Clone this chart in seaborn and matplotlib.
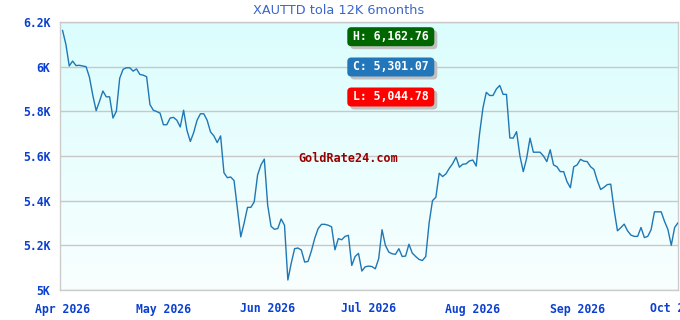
import numpy as np
import pandas as pd
import matplotlib
matplotlib.use("Agg")
import matplotlib.pyplot as plt
from matplotlib.patches import FancyBboxPatch
import seaborn as sns

# ---- data ----
start_date = "2026-04-01"
prices = [
    6162.76, 6100, 6003, 6025, 6005, 6006, 6003, 6000, 5953, 5872,
    5803, 5845, 5891, 5865, 5865, 5770, 5800, 5948, 5988, 5995,
    5995, 5980, 5990, 5965, 5962, 5955, 5830, 5805, 5799, 5792,
    5740, 5740, 5770, 5773, 5760, 5730, 5805, 5715, 5665, 5705,
    5760, 5789, 5789, 5760, 5708, 5690, 5660, 5690, 5525, 5503,
    5506, 5490, 5365, 5238, 5300, 5370, 5370, 5395, 5515, 5560,
    5586, 5380, 5285, 5272, 5275, 5318, 5290, 5044.78, 5120, 5185,
    5188, 5179, 5125, 5128, 5175, 5232, 5275, 5294, 5294, 5290,
    5283, 5180, 5230, 5225, 5240, 5245, 5110, 5150, 5164, 5085,
    5104, 5107, 5105, 5095, 5140, 5270, 5200, 5170, 5162, 5160,
    5185, 5150, 5152, 5205, 5165, 5150, 5137, 5132, 5150, 5300,
    5400, 5415, 5523, 5508, 5520, 5545, 5566, 5595, 5550, 5563,
    5565, 5578, 5582, 5555, 5700, 5815, 5885, 5871, 5871, 5900,
    5916, 5876, 5876, 5681, 5680, 5709, 5600, 5530, 5590, 5680,
    5617, 5617, 5617, 5600, 5575, 5628, 5560, 5552, 5530, 5530,
    5485, 5458, 5552, 5560, 5585, 5577, 5575, 5552, 5540, 5490,
    5450, 5460, 5472, 5474, 5360, 5265, 5279, 5295, 5265, 5246,
    5240, 5240, 5280, 5235, 5240, 5270, 5350, 5350, 5350, 5307,
    5271, 5200, 5280, 5301.07,
]
y_ticks = [5000, 5200, 5400, 5600, 5800, 6000, 6200]
y_tick_labels = ["5K", "5.2K", "5.4K", "5.6K", "5.8K", "6K", "6.2K"]
x_tick_dates = ["2026-04-01", "2026-05-01", "2026-06-01", "2026-07-01",
                "2026-08-01", "2026-09-01", "2026-10-01"]
x_tick_labels = ["Apr 2026", "May 2026", "Jun 2026", "Jul 2026",
                 "Aug 2026", "Sep 2026", "Oct 2026"]
title = "XAUTTD tola 12K 6months"
badge_texts = ["H: 6,162.76", "C: 5,301.07", "L: 5,044.78"]
badge_colors = ["#006600", "#2277bb", "#ff0000"]
watermark = "GoldRate24.com"

df = pd.DataFrame({
    "date": pd.date_range(start_date, periods=len(prices), freq="D"),
    "price": prices,
})

sns.set_theme(style="white")
plt.rcParams["font.family"] = ["DejaVu Sans"]

W, H = 680, 320
fig = plt.figure(figsize=(6.8, 3.2), dpi=100)
fig.patch.set_facecolor("white")
ax = fig.add_axes([60 / W, 1 - 290 / H, 618 / W, 268 / H])

# gradient background (light cyan at top, near white at bottom)
grad = np.linspace(0, 1, 256).reshape(-1, 1)
cmap = matplotlib.colors.LinearSegmentedColormap.from_list("bg", ["#dbfdfd", "#f9ffff"])
ax.imshow(grad, cmap=cmap, aspect="auto", extent=[0, 1, 0, 1],
          transform=ax.transAxes, zorder=0)

sns.lineplot(data=df, x="date", y="price", ax=ax, color="#1f77b4",
             linewidth=1.0, zorder=3)

x0 = pd.Timestamp(start_date) - pd.Timedelta(hours=18)
x1 = pd.Timestamp(x_tick_dates[-1])
ax.set_xlim(x0, x1)
ax.set_ylim(y_ticks[0], y_ticks[-1])

ax.set_yticks(y_ticks)
ax.set_yticklabels(y_tick_labels)
ax.set_xticks([pd.Timestamp(d) for d in x_tick_dates])
ax.set_xticklabels(x_tick_labels)

for lab in ax.get_yticklabels() + ax.get_xticklabels():
    lab.set_fontfamily("DejaVu Sans Mono")
    lab.set_fontweight("bold")
    lab.set_fontsize(8.3)
    lab.set_color("#0a3fd0")
ax.tick_params(axis="both", length=0)
ax.tick_params(axis="y", pad=7)
ax.tick_params(axis="x", pad=9)

ax.set_xlabel("")
ax.set_ylabel("")
ax.grid(False)
ax.yaxis.grid(True, color="#c8c8c8", linewidth=1.0, zorder=1)
ax.set_axisbelow(False)
for sp in ax.spines.values():
    sp.set_color("#cccccc")
    sp.set_linewidth(1.0)
    sp.set_visible(True)

fig.text(339 / W, 1 - 11 / H, title, ha="center", va="center",
         fontsize=9.3, color="#3a66cc", family="DejaVu Sans")

# badges: boxes as patches in figure pixels, text on top
box_w, box_h = 87, 19
cx = 390.8
badge_y = [36.7, 67, 97]
for txt, col, yy in zip(badge_texts, badge_colors, badge_y):
    left = cx - box_w / 2
    bottom = H - yy - box_h / 2
    for dx, dy, fc, z in [(3, -3, "#c0c0c0", 5), (0, 0, col, 6)]:
        p = FancyBboxPatch(((left + dx) / W, (bottom + dy) / H),
                           box_w / W, box_h / H,
                           boxstyle="round,pad=0,rounding_size=0.006",
                           transform=fig.transFigure, fc=fc, ec="none",
                           zorder=z, mutation_aspect=W / H)
        fig.add_artist(p)
    fig.text(cx / W, 1 - yy / H, txt, ha="center", va="center",
             fontsize=8.3, family="DejaVu Sans Mono", weight="bold",
             color="white", zorder=7)

fig.text(348 / W, 1 - 158 / H, watermark, ha="center", va="center",
         fontsize=8.5, family="DejaVu Sans Mono", weight="bold",
         color="#990000", zorder=4)

fig.savefig("out.png", dpi=100)
